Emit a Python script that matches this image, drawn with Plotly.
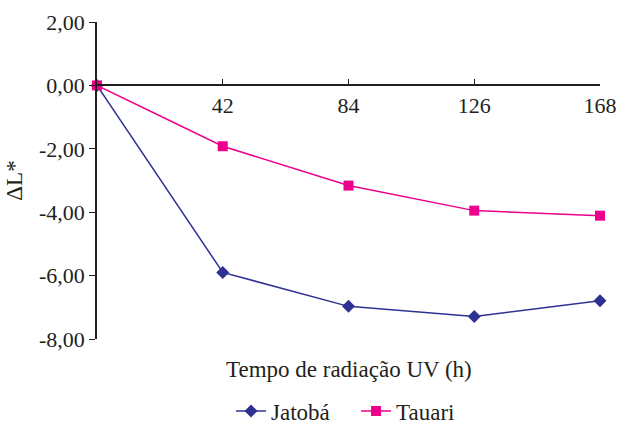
import plotly.graph_objects as go

# tempo de radiacao UV (h)
tempo = [0, 42, 84, 126, 168]
jatoba = [0.0, -5.90, -6.97, -7.29, -6.79]
tauari = [0.0, -1.92, -3.16, -3.95, -4.11]

x_ticks = [42, 84, 126, 168]
y_ticks = [2, 0, -2, -4, -6, -8]
y_labels = ["2,00", "0,00", "-2,00", "-4,00", "-6,00", "-8,00"]

fonte = dict(family="Liberation Serif, Times New Roman, serif", size=22, color="#231f20")

fig = go.Figure()
fig.add_trace(go.Scatter(
    x=tempo, y=jatoba, name="Jatobá", mode="lines+markers",
    line=dict(color="#2e3192", width=1.5),
    marker=dict(symbol="diamond", size=10, color="#2e3192"),
    cliponaxis=False,
))
fig.add_trace(go.Scatter(
    x=tempo, y=tauari, name="Tauari", mode="lines+markers",
    line=dict(color="#ec008c", width=1.5),
    marker=dict(symbol="square", size=10, color="#ec008c"),
    cliponaxis=False,
))

fig.update_layout(
    width=627, height=425,
    margin=dict(l=97, r=27, t=22, b=86),
    paper_bgcolor="white", plot_bgcolor="white",
    font=fonte,
    showlegend=True,
    legend=dict(orientation="h", x=0.515, xanchor="center",
                yref="container", y=0.033, yanchor="middle",
                font=dict(size=23), itemwidth=30,
                entrywidth=80, entrywidthmode="pixels"),
    xaxis=dict(
        range=[0, 168], anchor="free", position=0.8, automargin=False,
        tickvals=x_ticks, ticks="inside", ticklen=6, tickcolor="#231f20",
        showline=True, linecolor="#231f20", linewidth=1.5,
        showgrid=False, zeroline=False,
    ),
    yaxis=dict(
        range=[-8, 2], tickvals=y_ticks, ticktext=y_labels, automargin=False,
        ticks="outside", ticklen=6, tickcolor="#231f20",
        showline=True, linecolor="#231f20", linewidth=1.5,
        showgrid=False, zeroline=False,
        title=dict(text="ΔL*", standoff=10, font=dict(size=23)),
    ),
    annotations=[dict(
        text="Tempo de radiação UV (h)", xref="paper", yref="paper",
        x=0.5, y=-0.05, xanchor="center", yanchor="top", showarrow=False,
        font=dict(size=23),
    )],
)

# the page has a default 8px body margin, drop it so the figure fills the window
fig.write_html("out.html", config={"displayModeBar": False},
               post_script="document.body.style.margin='0';")
